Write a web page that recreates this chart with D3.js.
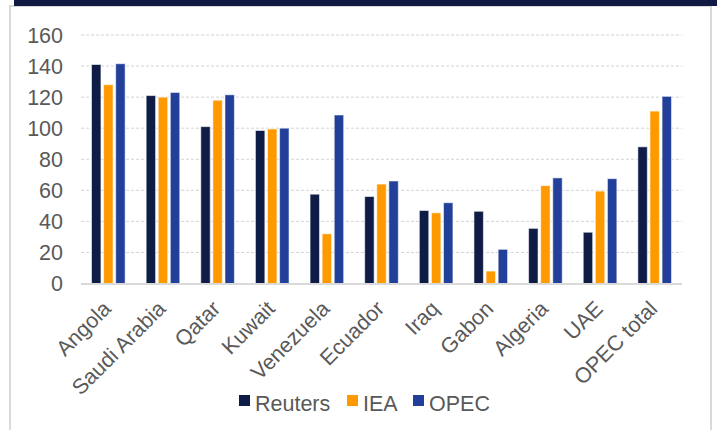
<!DOCTYPE html>
<html>
<head>
<meta charset="utf-8">
<script src="https://cdn.jsdelivr.net/npm/d3@7"></script>
<style>
  html, body { margin: 0; padding: 0; background: #fff; }
  svg { display: block; font-family: "Liberation Sans", Arial, sans-serif; }
</style>
</head>
<body>
<svg id="chart" width="717" height="430"></svg>
<script>
// Countries / aggregate shown along the x axis
const categories = ["Angola", "Saudi Arabia", "Qatar", "Kuwait", "Venezuela", "Ecuador",
                    "Iraq", "Gabon", "Algeria", "UAE", "OPEC total"];
// Series names and their values per category
const seriesNames = ["Reuters", "IEA", "OPEC"];
const reutersValues = [141, 121, 101, 98.5, 57.5, 56, 47, 46.5, 35.5, 33, 88];
const ieaValues     = [128, 120, 118, 99.5, 32, 64, 45.5, 8, 63, 59.5, 111];
const opecValues    = [141.5, 123, 121.5, 100, 108.5, 66, 52, 22, 68, 67.5, 120.5];
const yTicks = [0, 20, 40, 60, 80, 100, 120, 140, 160];

const seriesValues = [reutersValues, ieaValues, opecValues];
const colors = ["#0f1c45", "#ff9900", "#22409a"];
const FONT = 21.5;

const svg = d3.select("#chart");

// Card frame with dark header band
svg.append("rect").attr("x", 10).attr("y", 6).attr("width", 701).attr("height", 440)
  .attr("fill", "#fff").attr("stroke", "#d9d9d9").attr("stroke-width", 2);
svg.append("rect").attr("x", 14).attr("y", 0).attr("width", 703).attr("height", 6)
  .attr("fill", "#111a42");

const margin = { left: 81, right: 35, top: 35, bottom: 146.5 };
const W = 717, H = 430;

const x0 = d3.scaleBand().domain(categories).range([margin.left, W - margin.right]).padding(0);
const x1 = d3.scaleBand().domain(seriesNames).range([0, 33.6]).paddingInner(0.22).paddingOuter(0);
const y = d3.scaleLinear().domain([0, 160]).range([H - margin.bottom, margin.top]);

// Horizontal gridlines
svg.append("g").selectAll("line").data(yTicks.filter(d => d > 0)).join("line")
  .attr("x1", margin.left).attr("x2", W - margin.right)
  .attr("y1", d => y(d)).attr("y2", d => y(d))
  .attr("stroke", "#d4d4d4").attr("stroke-width", 1).attr("stroke-dasharray", "3,2");

// Y-axis tick labels
svg.append("g").selectAll("text").data(yTicks).join("text")
  .attr("x", 63).attr("y", d => y(d)).attr("dy", "0.36em")
  .attr("text-anchor", "end").attr("font-size", FONT).attr("fill", "#595959")
  .text(d => d);

// Bars
const groups = svg.append("g").selectAll("g").data(categories).join("g")
  .attr("transform", c => `translate(${x0(c) + x0.bandwidth() / 2 - 16.8},0)`);
groups.selectAll("rect")
  .data((c, i) => seriesNames.map((s, k) => ({ s, k, v: seriesValues[k][i] })))
  .join("rect")
  .attr("x", d => x1(d.s))
  .attr("width", x1.bandwidth())
  .attr("y", d => y(d.v))
  .attr("height", d => y(0) - y(d.v))
  .attr("fill", d => colors[d.k])
  .attr("stroke", "rgba(255,255,255,0.55)")
  .attr("stroke-width", 1);

// Category axis line
svg.append("line")
  .attr("x1", margin.left).attr("x2", W - margin.right)
  .attr("y1", y(0) + 0.5).attr("y2", y(0) + 0.5)
  .attr("stroke", "#d9d9d9").attr("stroke-width", 2);

// Rotated category labels
svg.append("g").selectAll("text").data(categories).join("text")
  .attr("transform", c => `translate(${x0(c) + x0.bandwidth() / 2 + 4},310) rotate(-45)`)
  .attr("text-anchor", "end").attr("font-size", FONT).attr("fill", "#595959")
  .text(c => c);

// Legend
const legendX = [239, 347, 413];
const legend = svg.append("g").selectAll("g").data(seriesNames).join("g")
  .attr("transform", (d, i) => `translate(${legendX[i]},395)`);
legend.append("rect").attr("width", 11).attr("height", 11)
  .attr("fill", (d, i) => colors[i]);
legend.append("text").attr("x", 16).attr("y", 15.5)
  .attr("font-size", FONT).attr("fill", "#595959").text(d => d);
</script>
</body>
</html>
